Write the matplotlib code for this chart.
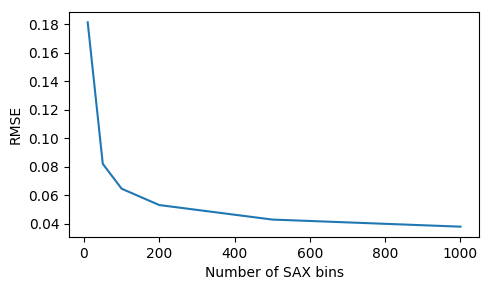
import matplotlib
matplotlib.use('Agg')
import matplotlib.pyplot as plt
from matplotlib.ticker import MultipleLocator

sax_bins = [10, 50, 100, 200, 500, 1000]
rmse = [0.1815, 0.082, 0.0645, 0.053, 0.0428, 0.0378]

fig, ax = plt.subplots(figsize=(4.83, 2.81), dpi=100)
ax.plot(sax_bins, rmse)
ax.yaxis.set_major_locator(MultipleLocator(0.02))
ax.set_xlabel('Number of SAX bins')
ax.set_ylabel('RMSE')
fig.subplots_adjust(left=0.143, right=0.992, top=0.957, bottom=0.157)
fig.savefig('out.png', dpi=100)
